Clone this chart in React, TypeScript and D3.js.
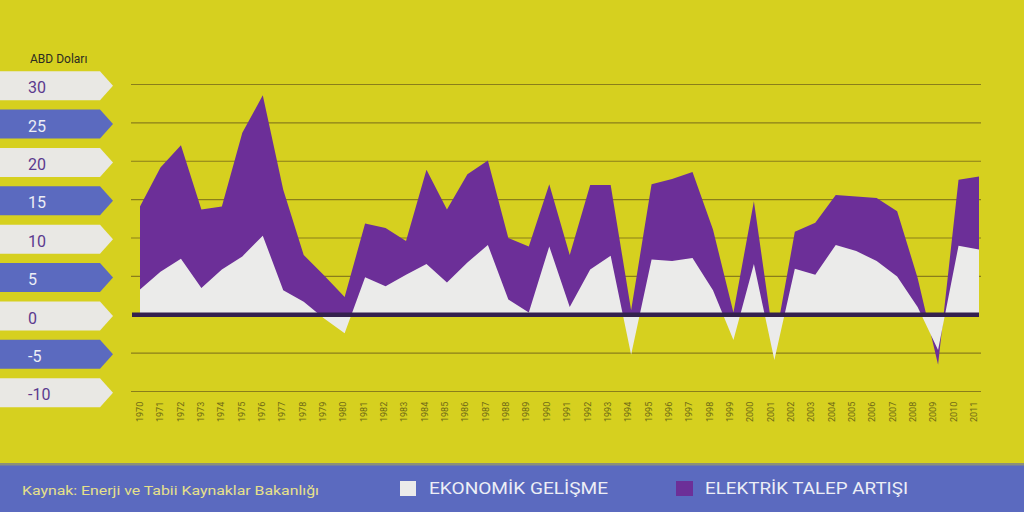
import React from "react";
import * as d3 from "d3";

// ---- data ----
const years: number[] = [
  1970, 1971, 1972, 1973, 1974, 1975, 1976, 1977, 1978, 1979,
  1980, 1981, 1982, 1983, 1984, 1985, 1986, 1987, 1988, 1989,
  1990, 1991, 1992, 1993, 1994, 1995, 1996, 1997, 1998, 1999,
  2000, 2001, 2002, 2003, 2004, 2005, 2006, 2007, 2008, 2009,
  2010, 2011,
];

// Ekonomik gelişme (white area)
const ekonomikGelisme: number[] = [
  3.3, 5.6, 7.3, 3.5, 5.9, 7.6, 10.3, 3.2, 1.7, -0.5,
  -2.4, 4.9, 3.7, 5.2, 6.6, 4.2, 6.8, 9.1, 2.0, 0.3,
  8.9, 1.0, 5.9, 7.7, -5.2, 7.2, 7.0, 7.4, 3.2, -3.3,
  6.6, -5.9, 6.0, 5.2, 9.1, 8.3, 7.0, 5.0, 1.0, -4.6,
  9.0, 8.5,
];

// Elektrik talep artışı (purple area, stacked on top of ekonomik gelişme)
const elektrikTalep: number[] = [
  10.8, 13.6, 14.8, 10.2, 8.2, 16.1, 18.3, 13.1, 6.1, 5.6,
  4.7, 7.0, 7.6, 4.4, 12.3, 9.5, 11.5, 11.0, 8.0, 8.6,
  8.1, 6.8, 11.0, 9.2, 5.8, 9.8, 10.7, 11.2, 7.9, 3.6,
  8.2, 1.9, 4.8, 6.8, 6.5, 7.1, 8.2, 8.5, 3.8, -1.9,
  8.6, 9.5,
];

const yTicks: number[] = [30, 25, 20, 15, 10, 5, 0, -5, -10];

const yAxisTitle = "ABD Doları";
const sourceText = "Kaynak: Enerji ve Tabii Kaynaklar Bakanlığı";
const legendLabels: string[] = ["EKONOMİK GELİŞME", "ELEKTRİK TALEP ARTIŞI"];

// ---- styles ----
const BG = "#d6d01f";
const PURPLE = "#6c2f98";
const WHITE_AREA = "#ebebea";
const BLUE = "#5b6abf";
const LIGHT_BOX = "#e9e8e4";
const GRID = "#8a7e1b";
const ZERO = "#34204e";
const FONT = "Roboto, 'Open Sans', sans-serif";

export default function App() {
  const W = 1024;
  const H = 512;

  const x = d3.scalePoint<number>().domain(years).range([140, 979]);
  const xLabel = d3.scalePoint<number>().domain(years).range([140, 974]);
  const y = d3.scaleLinear().domain([-10, 30]).range([391.5, 84.5]);

  const rows = years.map((yr, i) => ({
    year: yr,
    econ: ekonomikGelisme[i],
    total: ekonomikGelisme[i] + elektrikTalep[i],
  }));

  const purpleArea = d3
    .area<(typeof rows)[number]>()
    .x((d) => x(d.year) as number)
    .y0(y(0))
    .y1((d) => y(d.total))
    .curve(d3.curveLinear);

  const whiteArea = d3
    .area<(typeof rows)[number]>()
    .x((d) => x(d.year) as number)
    .y0(y(0))
    .y1((d) => y(d.econ))
    .curve(d3.curveLinear);

  const boxPath = (v: number) => {
    const c = y(v) + 1.2;
    const t = c - 14.5;
    const b = c + 14.5;
    return `M0,${t} H100 L113,${c} L100,${b} H0 Z`;
  };

  return (
    <svg
      width={W}
      height={H}
      style={{ position: "absolute", left: 0, top: 0, display: "block" }}
      fontFamily={FONT}
    >
      <rect x={0} y={0} width={W} height={H} fill={BG} />

      {/* grid lines */}
      {yTicks
        .filter((v) => v !== 0)
        .map((v) => (
          <line
            key={`g${v}`}
            x1={131}
            x2={981}
            y1={y(v)}
            y2={y(v)}
            stroke={GRID}
            strokeWidth={1.2}
          />
        ))}

      {/* areas */}
      <path d={purpleArea(rows) || ""} fill={PURPLE} />
      <path d={whiteArea(rows) || ""} fill={WHITE_AREA} />

      {/* zero line */}
      <line x1={132} x2={979} y1={y(0)} y2={y(0)} stroke={ZERO} strokeWidth={4.3} />

      {/* y axis boxes */}
      <text x={30} y={63} fontSize={12} fill="#2b2b22" fontFamily={FONT}>
        {yAxisTitle}
      </text>
      {yTicks.map((v, i) => {
        const light = i % 2 === 0;
        return (
          <g key={`b${v}`}>
            <path d={boxPath(v)} fill={light ? LIGHT_BOX : BLUE} />
            <text
              x={28}
              y={y(v) + 8.8}
              fontSize={16}
              fill={light ? "#5b3a8e" : "#eceef6"}
            >
              {v}
            </text>
          </g>
        );
      })}

      {/* x labels */}
      {years.map((yr) => (
        <text
          key={`x${yr}`}
          transform={`translate(${(xLabel(yr) as number) + 3},422) rotate(-90)`}
          fontSize={9}
          fill="#6f6a16"
          textAnchor="start"
        >
          {yr}
        </text>
      ))}

      {/* bottom band */}
      <rect x={0} y={464} width={W} height={48} fill={BLUE} />
      <rect x={0} y={463} width={W} height={2.5} fill="#8c8f7a" />

      <text
        x={22}
        y={495}
        fontSize={13}
        fill="#e6e08a"
        textLength={297}
        lengthAdjust="spacingAndGlyphs"
      >
        {sourceText}
      </text>

      <rect x={400} y={481} width={16} height={15} fill={WHITE_AREA} />
      <text
        x={429}
        y={494}
        fontSize={17}
        fill="#eceef6"
        textLength={179}
        lengthAdjust="spacingAndGlyphs"
      >
        {legendLabels[0]}
      </text>

      <rect x={676} y={481} width={17} height={15} fill={PURPLE} />
      <text
        x={705}
        y={494}
        fontSize={17}
        fill="#eceef6"
        textLength={203}
        lengthAdjust="spacingAndGlyphs"
      >
        {legendLabels[1]}
      </text>
    </svg>
  );
}
